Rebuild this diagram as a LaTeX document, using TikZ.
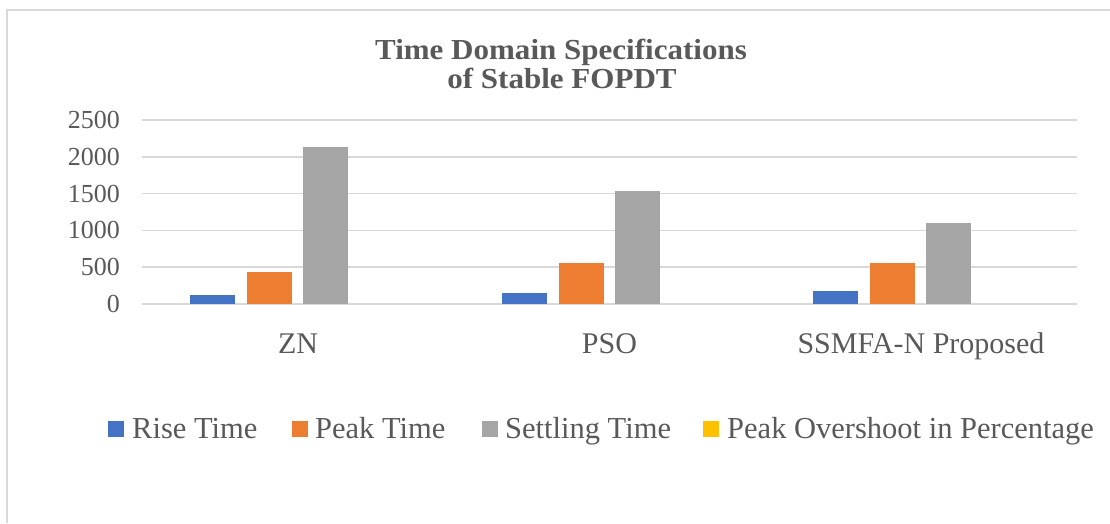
\documentclass[tikz,border=0pt]{standalone}
\usepackage{fontspec}
\setmainfont{Liberation Serif}
\newfontfamily\titlefont[FakeStretch=1.07]{Liberation Serif}
\definecolor{txt}{HTML}{595959}
\definecolor{grid}{HTML}{D9D9D9}
\definecolor{sblue}{HTML}{4472C4}
\definecolor{sorange}{HTML}{ED7D31}
\definecolor{sgray}{HTML}{A5A5A5}
\definecolor{syellow}{HTML}{FFC000}
\tikzset{
  ticklab/.style={anchor=east, inner sep=0pt, text=txt, font=\fontsize{26}{28}\selectfont},
  catlab/.style={anchor=base, inner sep=0pt, text=txt, font=\fontsize{30}{32}\selectfont},
  leglab/.style={anchor=base west, inner sep=0pt, text=txt, font=\fontsize{30.5}{32}\selectfont},
  titlelab/.style={anchor=base, inner sep=0pt, text=txt, font=\titlefont\bfseries\fontsize{29}{30}\selectfont},
  gridline/.style={draw=grid, line width=1.5pt},
}
\begin{document}
\begin{tikzpicture}[x=1pt,y=-1pt]
\useasboundingbox (0,0) rectangle (1110,523);
\fill[white] (0,0) rectangle (1110,523);
% chart frame (left and top edges visible)
\draw[grid, line width=1.5pt] (7,523) -- (7,10) -- (1110,10);
% title
\node[titlelab] (t1) at (561,59) {Time Domain Specifications};
\node[titlelab] (t2) at (562,88) {of Stable FOPDT};
% gridlines and tick labels
\foreach \v/\nm in {0/a,500/b,1000/c,1500/d,2000/e,2500/f}{
  \draw[gridline] (142,{304-\v*0.0736}) -- (1077,{304-\v*0.0736});
  \node[ticklab] (tick\nm) at (120,{304-\v*0.0736}) {\v};
}
% bars
\foreach \c/\b/\o/\g in {298/122/435/2133, 609.5/150/557/1535, 921/177/557/1100}{
  \fill[sblue]   (\c-108,304) rectangle (\c-63,{304-\b*0.0736});
  \fill[sorange] (\c-51,304)  rectangle (\c-6,{304-\o*0.0736});
  \fill[sgray]   (\c+5,304)   rectangle (\c+50,{304-\g*0.0736});
}
% category labels
\node[catlab] (zn) at (298,353) {ZN};
\node[catlab] (pso) at (609.5,353) {PSO};
\node[catlab] (ssm) at (921,353) {SSMFA-N Proposed};
% legend
\fill[sblue]   (108,421) rectangle (124,437);
\node[leglab] (l1) at (132,438) {Rise Time};
\fill[sorange] (292,421) rectangle (308,437);
\node[leglab] (l2) at (315,438) {Peak Time};
\fill[sgray]   (482,421) rectangle (498,437);
\node[leglab] (l3) at (505,438) {Settling Time};
\fill[syellow] (703,421) rectangle (719,437);
\node[leglab] (l4) at (727,438) {Peak Overshoot in Percentage};
\end{tikzpicture}
\end{document}
